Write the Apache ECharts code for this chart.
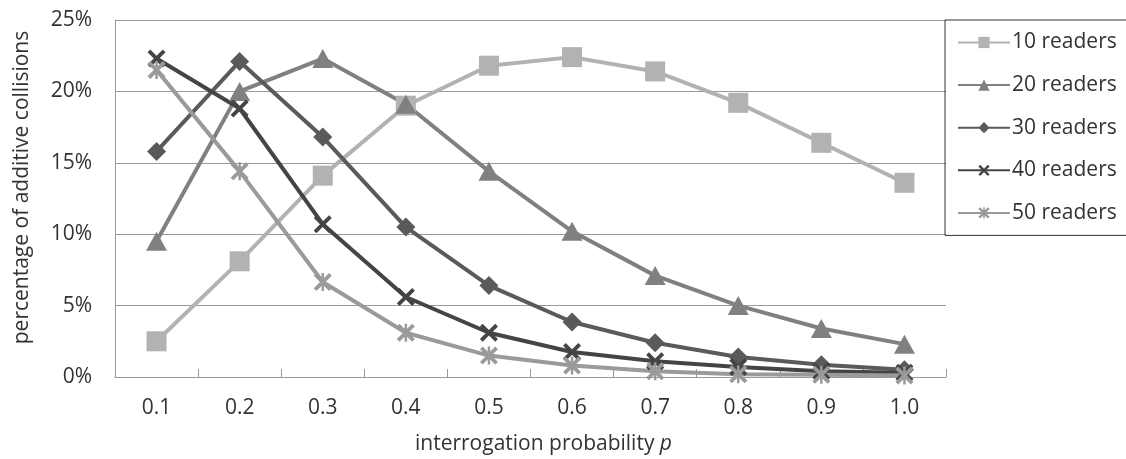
<!DOCTYPE html>
<html><head><meta charset="utf-8">
<script src="https://cdn.jsdelivr.net/npm/echarts@6/dist/echarts.min.js"></script>
<style>html,body{margin:0;padding:0;background:#fff}#c{width:1126px;height:459px}</style>
</head><body><div id="c"></div>
<script>
const categories = ['0.1','0.2','0.3','0.4','0.5','0.6','0.7','0.8','0.9','1.0'];
const seriesNames = ['10 readers','20 readers','30 readers','40 readers','50 readers'];
const r10 = [2.5, 8.1, 14.1, 19.0, 21.8, 22.4, 21.4, 19.2, 16.4, 13.6];
const r20 = [9.5, 20.0, 22.3, 19.1, 14.4, 10.2, 7.1, 5.0, 3.4, 2.3];
const r30 = [15.8, 22.1, 16.8, 10.5, 6.4, 3.85, 2.4, 1.4, 0.85, 0.5];
const r40 = [22.3, 18.8, 10.7, 5.6, 3.1, 1.75, 1.1, 0.7, 0.4, 0.3];
const r50 = [21.5, 14.4, 6.65, 3.1, 1.5, 0.8, 0.4, 0.2, 0.15, 0.1];
const yTicks = [0, 5, 10, 15, 20, 25];

const colors = ['#b2b2b2','#808080','#5a5a5a','#444444','#9a9a9a'];
const crossPath = 'path://M0,1.5 L1.5,0 L10,8.5 L8.5,10 Z M8.5,0 L10,1.5 L1.5,10 L0,8.5 Z';
const starPath = 'path://M0,1.5 L1.5,0 L10,8.5 L8.5,10 Z M8.5,0 L10,1.5 L1.5,10 L0,8.5 Z M4.3,0 L5.7,0 L5.7,10 L4.3,10 Z';
const symbols = ['rect','triangle','diamond',crossPath,starPath];
const sizes = [[20,20],[21,19],[19,19],[18,18],[18,18]];
const data = [r10, r20, r30, r40, r50];
const font = 'Open Sans';
const textColor = '#333';
const fs = 21;

const chart = echarts.init(document.getElementById('c'));
chart.setOption({
  animation: false,
  textStyle: {fontFamily: font},
  grid: {left: 115, right: 180, top: 20, bottom: 82, containLabel: false, outerBoundsMode: 'none'},
  legend: {
    orient: 'vertical', left: 945, top: 20,
    data: seriesNames,
    itemWidth: 52, itemHeight: 14, itemGap: 21.6,
    padding: [12, 60, 12, 12],
    borderColor: '#333', borderWidth: 1,
    textStyle: {fontFamily: font, fontSize: fs, color: textColor, padding: [0,0,0,-3]}
  },
  xAxis: {
    type: 'category', data: categories, boundaryGap: true,
    axisLine: {lineStyle: {color: '#999', width: 1}},
    axisTick: {show: true, inside: true, length: 8, lineStyle: {color: '#999'}},
    axisLabel: {fontFamily: font, fontSize: fs, color: textColor, margin: 21},
    name: 'interrogation probability {i|p}',
    nameLocation: 'middle', nameGap: 57,
    nameTextStyle: {fontFamily: font, fontSize: fs, color: textColor, padding: [0,0,0,26],
      rich: {i: {fontFamily: font, fontSize: fs, fontStyle: 'italic', color: textColor}}}
  },
  yAxis: {
    type: 'value', min: 0, max: 25, interval: 5,
    axisLine: {show: true, lineStyle: {color: '#999'}},
    axisTick: {show: false},
    splitLine: {lineStyle: {color: '#999', width: 1}},
    axisLabel: {fontFamily: font, fontSize: fs, color: textColor, margin: 23,
      formatter: v => yTicks.includes(v) ? v + '%' : ''},
    name: 'percentage of additive collisions',
    nameLocation: 'middle', nameGap: 82, nameRotate: 90,
    nameTextStyle: {fontFamily: font, fontSize: fs, color: textColor, padding: [0,0,0,22]}
  },
  series: data.map((d, i) => ({
    name: seriesNames[i], type: 'line', data: d,
    smooth: false,
    symbol: symbols[i], symbolSize: sizes[i],
    showAllSymbol: true,
    lineStyle: {color: colors[i], width: 4},
    itemStyle: {color: colors[i]},
    emphasis: {disabled: true}
  }))
});
</script></body></html>
